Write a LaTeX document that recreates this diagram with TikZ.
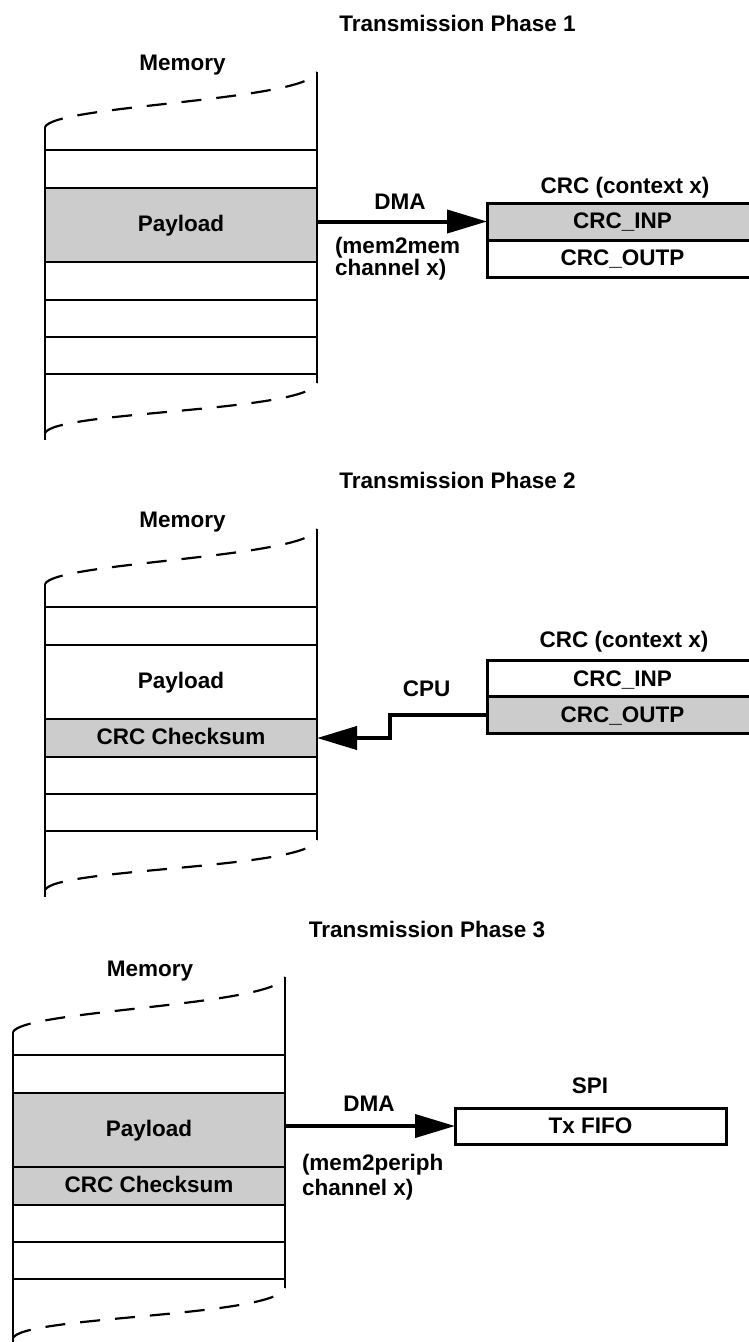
\documentclass[tikz,border=0pt]{standalone}
\usepackage{fontspec}
\setmainfont{Liberation Sans}
\usetikzlibrary{arrows.meta}
\definecolor{regfill}{gray}{0.8}
\tikzset{
  lbl/.style={font=\fontsize{22.5}{21}\selectfont\bfseries, inner sep=0pt, outer sep=0pt, anchor=base},
  memrow/.style={lbl, anchor=center, minimum width=272pt, minimum height=#1, text height=16pt, text depth=3pt},
  reg/.style={lbl, anchor=center, draw, line width=3pt, minimum width=271pt, minimum height=37pt, text height=16pt, text depth=2pt},
  memline/.style={line width=2.9pt},
  dashline/.style={line width=2.2pt, dash pattern=on 20pt off 15pt},
  bigarrow/.style={line width=4pt, -{Triangle[length=40pt,width=23pt]}},
}
\newcommand\memframe[1]{%
  \begin{scope}[shift={#1}]
    \foreach \yy in {150,188,262,300,337,374} \draw[memline] (45,\yy) -- (317,\yy);
    \draw[memline] (45,127) -- (45,440);
    \draw[memline] (317,72) -- (317,383);
    \draw[dashline] (45,127) .. controls (55,105) and (307,101) .. (317,72);
    \draw[dashline] (45,433) .. controls (55,411) and (307,412) .. (317,383);
  \end{scope}}
\begin{document}
\begin{tikzpicture}[x=1pt,y=-1pt]
\useasboundingbox (0,0) rectangle (749,1342);
% ---------- Phase 1
\node[lbl] (t1) at (457.5,31.7) {Transmission Phase 1};
\node[lbl] (m1) at (182.5,70) {Memory};
\node[memrow=74pt, fill=regfill] (pay1) at (181,225) {Payload};
\memframe{(0,0)}
\node[lbl] (c1) at (625,193.3) {CRC (context x)};
\node[reg, fill=regfill] (inp1) at (622.5,221.5) {CRC\_INP};
\node[reg] (outp1) at (622.5,258.5) {CRC\_OUTP};
\node[lbl] (dma1) at (400,209.3) {DMA};
\node[lbl, anchor=base west, font=\fontsize{22.5}{20}\selectfont\bfseries] (ch1) at (335,253.5) {\begin{tabular}[t]{@{}l@{}}(mem2mem\\channel x)\end{tabular}};
\draw[bigarrow] (pay1.east |- inp1.west) -- (inp1.west);
% ---------- Phase 2
\node[lbl] (t2) at (457.5,488.7) {Transmission Phase 2};
\node[lbl] (m2) at (182.5,527) {Memory};
\node[memrow=74pt] (pay2) at (181,682) {Payload};
\node[memrow=37pt, fill=regfill] (chk2) at (181,738) {CRC Checksum};
\memframe{(0,457)}
\node[lbl] (c2) at (624,647) {CRC (context x)};
\node[reg] (inp2) at (622.5,679) {CRC\_INP};
\node[reg, fill=regfill] (outp2) at (622.5,715) {CRC\_OUTP};
\node[lbl] (cpu) at (426.7,696) {CPU};
\coordinate (bend) at (390,715);
\draw[bigarrow, line join=miter] (outp2.west) -- (bend) |- (chk2.east);
% ---------- Phase 3
\node[lbl] (t3) at (427,937.7) {Transmission Phase 3};
\node[lbl] (m3) at (150,976) {Memory};
\node[memrow=74pt, fill=regfill] (pay3) at (149,1130) {Payload};
\node[memrow=37pt, fill=regfill] (chk3) at (149,1186) {CRC Checksum};
\memframe{(-32,905)}
\node[lbl] (spi) at (590,1093.3) {SPI};
\node[reg, minimum height=36pt] (fifo) at (590.5,1126) {Tx FIFO};
\node[lbl] (dma3) at (369,1111) {DMA};
\node[lbl, anchor=base west, font=\fontsize{22.5}{25.5}\selectfont\bfseries] (ch3) at (302,1170) {\begin{tabular}[t]{@{}l@{}}(mem2periph\\channel x)\end{tabular}};
\draw[bigarrow] (pay3.east |- fifo.west) -- (fifo.west);
\end{tikzpicture}
\end{document}
